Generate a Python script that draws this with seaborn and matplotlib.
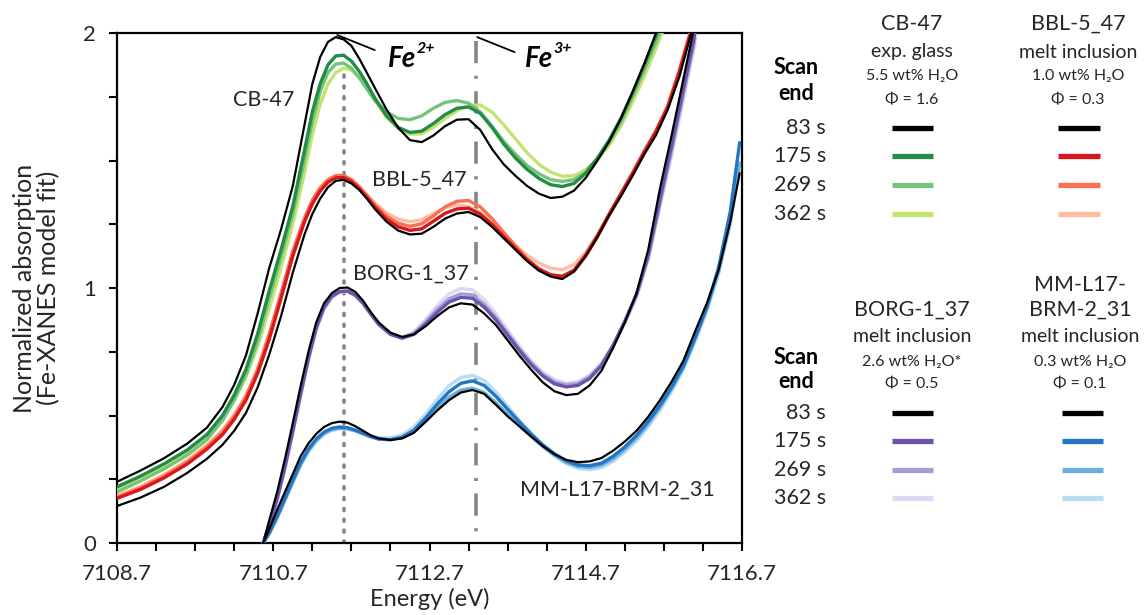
import matplotlib
matplotlib.use("Agg")
import matplotlib.pyplot as plt
import pandas as pd
import seaborn as sns

# ---------------------------------------------------------------- data
SCAN_END = ["83 s", "175 s", "269 s", "362 s"]

# CB-47 experimental glass
ENERGY_CB = [7108.7, 7109.0, 7109.3, 7109.6, 7109.85, 7110.05, 7110.2, 7110.35, 7110.5, 7110.65,
             7110.8, 7110.95, 7111.1, 7111.2, 7111.3, 7111.4, 7111.5, 7111.6, 7111.7, 7111.8,
             7111.9, 7112.0, 7112.15, 7112.3, 7112.45, 7112.6, 7112.75, 7112.9, 7113.05, 7113.2,
             7113.35, 7113.5, 7113.65, 7113.8, 7113.95, 7114.1, 7114.25, 7114.4, 7114.55, 7114.7,
             7114.85, 7115.0, 7115.15, 7115.3, 7115.45, 7115.6, 7115.75]
CB_083 = [0.240, 0.284, 0.332, 0.390, 0.452, 0.533, 0.620, 0.735, 0.900, 1.080,
          1.230, 1.400, 1.640, 1.800, 1.905, 1.965, 1.984, 1.975, 1.950, 1.900,
          1.843, 1.785, 1.700, 1.628, 1.580, 1.572, 1.598, 1.635, 1.660, 1.662,
          1.620, 1.545, 1.485, 1.440, 1.400, 1.370, 1.353, 1.358, 1.382, 1.432,
          1.500, 1.575, 1.665, 1.770, 1.880, 2.000, 2.120]
CB_175 = [0.220, 0.262, 0.310, 0.365, 0.425, 0.500, 0.580, 0.680, 0.820, 0.990,
          1.150, 1.320, 1.540, 1.690, 1.800, 1.875, 1.910, 1.913, 1.890, 1.850,
          1.800, 1.745, 1.675, 1.630, 1.610, 1.615, 1.645, 1.680, 1.705, 1.710,
          1.685, 1.630, 1.565, 1.510, 1.465, 1.430, 1.405, 1.398, 1.410, 1.450,
          1.510, 1.580, 1.665, 1.765, 1.875, 1.990, 2.110]
CB_269 = [0.200, 0.243, 0.290, 0.345, 0.405, 0.480, 0.560, 0.660, 0.790, 0.960,
          1.120, 1.290, 1.500, 1.650, 1.770, 1.845, 1.878, 1.882, 1.862, 1.825,
          1.780, 1.735, 1.690, 1.665, 1.660, 1.675, 1.705, 1.728, 1.735, 1.725,
          1.690, 1.635, 1.575, 1.525, 1.480, 1.448, 1.425, 1.418, 1.425, 1.455,
          1.505, 1.570, 1.650, 1.750, 1.855, 1.965, 2.080]
CB_362 = [0.210, 0.252, 0.300, 0.355, 0.415, 0.485, 0.560, 0.650, 0.770, 0.920,
          1.080, 1.250, 1.450, 1.600, 1.720, 1.800, 1.845, 1.862, 1.855, 1.825,
          1.785, 1.735, 1.670, 1.625, 1.603, 1.605, 1.630, 1.665, 1.695, 1.715,
          1.718, 1.690, 1.640, 1.585, 1.530, 1.485, 1.455, 1.438, 1.440, 1.465,
          1.505, 1.560, 1.635, 1.730, 1.830, 1.940, 2.060]

# BBL-5_47 melt inclusion
ENERGY_BBL = ENERGY_CB + [7115.9, 7116.05, 7116.2]
BBL_083 = [0.145, 0.178, 0.220, 0.275, 0.330, 0.385, 0.440, 0.510, 0.610, 0.740,
           0.890, 1.060, 1.210, 1.290, 1.350, 1.395, 1.420, 1.424, 1.410, 1.385,
           1.350, 1.310, 1.260, 1.225, 1.210, 1.213, 1.240, 1.272, 1.292, 1.298,
           1.278, 1.240, 1.195, 1.150, 1.105, 1.068, 1.045, 1.035, 1.065, 1.125,
           1.200, 1.285, 1.360, 1.440, 1.525, 1.600, 1.700, 1.830, 2.000, 2.150]
BBL_175 = [0.175, 0.210, 0.255, 0.310, 0.368, 0.425, 0.485, 0.560, 0.665, 0.800,
           0.960, 1.125, 1.260, 1.330, 1.380, 1.415, 1.432, 1.433, 1.418, 1.390,
           1.355, 1.318, 1.270, 1.240, 1.226, 1.232, 1.262, 1.293, 1.310, 1.313,
           1.290, 1.250, 1.202, 1.155, 1.110, 1.075, 1.052, 1.046, 1.070, 1.130,
           1.205, 1.290, 1.370, 1.450, 1.535, 1.615, 1.710, 1.850, 2.010, 2.160]
BBL_269 = [0.180, 0.216, 0.262, 0.318, 0.377, 0.435, 0.496, 0.573, 0.680, 0.820,
           0.980, 1.145, 1.275, 1.345, 1.393, 1.425, 1.441, 1.441, 1.425, 1.397,
           1.362, 1.326, 1.282, 1.254, 1.242, 1.252, 1.283, 1.318, 1.340, 1.343,
           1.318, 1.272, 1.218, 1.165, 1.115, 1.075, 1.050, 1.042, 1.065, 1.125,
           1.200, 1.285, 1.365, 1.445, 1.530, 1.610, 1.710, 1.850, 2.010, 2.160]
BBL_362 = [0.185, 0.222, 0.268, 0.325, 0.385, 0.443, 0.503, 0.580, 0.685, 0.820,
           0.975, 1.135, 1.265, 1.337, 1.387, 1.420, 1.437, 1.438, 1.424, 1.398,
           1.366, 1.334, 1.294, 1.270, 1.260, 1.268, 1.292, 1.315, 1.325, 1.320,
           1.296, 1.256, 1.210, 1.168, 1.128, 1.098, 1.078, 1.072, 1.092, 1.140,
           1.210, 1.290, 1.370, 1.455, 1.540, 1.620, 1.720, 1.860, 2.020, 2.170]

# BORG-1_37 melt inclusion
ENERGY_BORG = [7110.57, 7110.65, 7110.75, 7110.85, 7110.95, 7111.05, 7111.15, 7111.25, 7111.35, 7111.45,
               7111.55, 7111.65, 7111.75, 7111.85, 7111.95, 7112.05, 7112.2, 7112.35, 7112.5, 7112.65,
               7112.8, 7112.95, 7113.1, 7113.25, 7113.4, 7113.55, 7113.7, 7113.85, 7114.0, 7114.15,
               7114.3, 7114.45, 7114.6, 7114.75, 7114.9, 7115.05, 7115.2, 7115.35, 7115.5, 7115.65,
               7115.8, 7115.95, 7116.1]
BORG_083 = [0.000, 0.090, 0.200, 0.330, 0.470, 0.615, 0.750, 0.865, 0.940, 0.980,
            1.000, 1.002, 0.985, 0.950, 0.905, 0.865, 0.825, 0.808, 0.818, 0.850,
            0.890, 0.924, 0.940, 0.935, 0.900, 0.855, 0.795, 0.735, 0.680, 0.630,
            0.595, 0.580, 0.585, 0.618, 0.675, 0.765, 0.865, 0.980, 1.150, 1.390,
            1.600, 1.820, 2.040]
BORG_175 = [0.000, 0.070, 0.175, 0.300, 0.440, 0.585, 0.725, 0.845, 0.925, 0.968,
            0.986, 0.988, 0.972, 0.940, 0.897, 0.857, 0.818, 0.803, 0.818, 0.858,
            0.905, 0.945, 0.963, 0.960, 0.925, 0.875, 0.815, 0.755, 0.700, 0.655,
            0.624, 0.612, 0.618, 0.645, 0.695, 0.775, 0.870, 0.975, 1.130, 1.350,
            1.560, 1.780, 2.000]
BORG_269 = [0.000, 0.070, 0.170, 0.295, 0.435, 0.580, 0.720, 0.840, 0.920, 0.965,
            0.985, 0.988, 0.972, 0.940, 0.898, 0.858, 0.820, 0.805, 0.822, 0.866,
            0.917, 0.958, 0.977, 0.973, 0.937, 0.885, 0.823, 0.762, 0.707, 0.662,
            0.632, 0.620, 0.626, 0.652, 0.700, 0.775, 0.865, 0.970, 1.120, 1.330,
            1.540, 1.760, 1.980]
BORG_362 = [0.000, 0.065, 0.165, 0.290, 0.430, 0.575, 0.715, 0.835, 0.917, 0.962,
            0.983, 0.986, 0.970, 0.940, 0.900, 0.860, 0.823, 0.808, 0.828, 0.876,
            0.932, 0.977, 0.998, 0.993, 0.955, 0.900, 0.835, 0.772, 0.715, 0.670,
            0.640, 0.627, 0.633, 0.658, 0.705, 0.775, 0.862, 0.965, 1.110, 1.320,
            1.520, 1.740, 1.960]

# MM-L17-BRM-2_31 melt inclusion
ENERGY_MM = ENERGY_BORG + [7116.25, 7116.4, 7116.55, 7116.67]
MM_083 = [0.000, 0.055, 0.130, 0.200, 0.270, 0.340, 0.390, 0.428, 0.455, 0.470,
          0.476, 0.472, 0.458, 0.440, 0.422, 0.410, 0.404, 0.410, 0.432, 0.475,
          0.520, 0.560, 0.590, 0.600, 0.585, 0.542, 0.497, 0.458, 0.418, 0.380,
          0.348, 0.326, 0.317, 0.320, 0.333, 0.362, 0.398, 0.440, 0.495, 0.560,
          0.633, 0.715, 0.830, 0.940, 1.070, 1.260, 1.450]
MM_175 = [0.000, 0.040, 0.105, 0.175, 0.245, 0.315, 0.368, 0.408, 0.435, 0.450,
          0.455, 0.452, 0.443, 0.430, 0.417, 0.408, 0.405, 0.415, 0.442, 0.490,
          0.545, 0.593, 0.626, 0.636, 0.618, 0.575, 0.525, 0.475, 0.428, 0.385,
          0.350, 0.322, 0.306, 0.303, 0.313, 0.340, 0.377, 0.422, 0.477, 0.540,
          0.612, 0.695, 0.805, 0.925, 1.080, 1.300, 1.570]
MM_269 = [0.000, 0.040, 0.100, 0.170, 0.240, 0.308, 0.362, 0.402, 0.430, 0.445,
          0.450, 0.448, 0.440, 0.428, 0.416, 0.408, 0.405, 0.414, 0.440, 0.482,
          0.530, 0.572, 0.600, 0.607, 0.590, 0.550, 0.505, 0.460, 0.418, 0.378,
          0.343, 0.316, 0.300, 0.296, 0.305, 0.330, 0.367, 0.412, 0.468, 0.532,
          0.605, 0.690, 0.800, 0.920, 1.065, 1.260, 1.490]
MM_362 = [0.000, 0.035, 0.095, 0.165, 0.235, 0.302, 0.357, 0.398, 0.426, 0.442,
          0.448, 0.447, 0.440, 0.430, 0.420, 0.413, 0.412, 0.424, 0.455, 0.505,
          0.565, 0.617, 0.649, 0.658, 0.638, 0.592, 0.537, 0.482, 0.430, 0.383,
          0.343, 0.312, 0.293, 0.287, 0.295, 0.320, 0.356, 0.400, 0.455, 0.520,
          0.595, 0.680, 0.790, 0.910, 1.055, 1.250, 1.470]

SAMPLES = ["CB-47", "BBL-5_47", "BORG-1_37", "MM-L17-BRM-2_31"]
SAMPLE_ENERGY = {"CB-47": ENERGY_CB, "BBL-5_47": ENERGY_BBL,
                 "BORG-1_37": ENERGY_BORG, "MM-L17-BRM-2_31": ENERGY_MM}
SAMPLE_SCANS = {"CB-47": [CB_083, CB_175, CB_269, CB_362],
                "BBL-5_47": [BBL_083, BBL_175, BBL_269, BBL_362],
                "BORG-1_37": [BORG_083, BORG_175, BORG_269, BORG_362],
                "MM-L17-BRM-2_31": [MM_083, MM_175, MM_269, MM_362]}
SAMPLE_COLORS = {"CB-47": ["#000000", "#248c47", "#76c47a", "#c4e470"],
                 "BBL-5_47": ["#000000", "#d7191c", "#fc7050", "#fdbda2"],
                 "BORG-1_37": ["#000000", "#6c52a8", "#a59ed6", "#dcd9f1"],
                 "MM-L17-BRM-2_31": ["#000000", "#2475c4", "#6cb1de", "#b9dcf3"]}

# legend header text per sample
SAMPLE_HEADER = {"CB-47": ["CB-47", "exp. glass", "5.5 wt% H\u2082O", "\u03a6 = 1.6"],
                 "BBL-5_47": ["BBL-5_47", "melt inclusion", "1.0 wt% H\u2082O", "\u03a6 = 0.3"],
                 "BORG-1_37": ["BORG-1_37", "melt inclusion", "2.6 wt% H\u2082O*", "\u03a6 = 0.5"],
                 "MM-L17-BRM-2_31": ["MM-L17-\nBRM-2_31", "melt inclusion", "0.3 wt% H\u2082O", "\u03a6 = 0.1"]}

FE2_ENERGY = 7111.6
FE3_ENERGY = 7113.3

# long-form table of all spectra
rows = []
for s in SAMPLES:
    for scan, vals in zip(SCAN_END, SAMPLE_SCANS[s]):
        for e, v in zip(SAMPLE_ENERGY[s], vals):
            rows.append({"sample": s, "scan": scan, "energy": e, "absorption": v})
spectra = pd.DataFrame(rows)

# ---------------------------------------------------------------- style
sns.set_style("ticks")
plt.rcParams["font.family"] = ["Lato", "DejaVu Sans"]
plt.rcParams["lines.scale_dashes"] = False
TXT = "#262626"

fig = plt.figure(figsize=(11.48, 6.15), dpi=100)
ax = fig.add_axes([117 / 1148, 1 - 543 / 615, 625 / 1148, 510 / 615])

# later scans first, the 83 s scan on top
draw_order = [3, 2, 1, 0]
for s in SAMPLES:
    for i in draw_order:
        sub = spectra[(spectra["sample"] == s) & (spectra["scan"] == SCAN_END[i])]
        sns.lineplot(data=sub, x="energy", y="absorption", sort=False, estimator=None,
                     color=SAMPLE_COLORS[s][i], lw=1.6 if i == 0 else 2.4,
                     solid_joinstyle="round", solid_capstyle="round",
                     ax=ax, legend=False, zorder=3)

# edge-position guides
ax.plot([FE2_ENERGY, FE2_ENERGY], [0, 1.84], color="#858585", lw=2.6,
        ls=(0, (1.5, 6.3)), dash_capstyle="round", zorder=2)
ax.plot([FE3_ENERGY, FE3_ENERGY], [1.97, 0], color="#858585", lw=2.6,
        ls=(0, (16, 9, 2.2, 9)), zorder=2)

ax.set_xlim(7108.7, 7116.7)
ax.set_ylim(0, 2)
ax.set_xticks([7108.7, 7110.7, 7112.7, 7114.7, 7116.7])
ax.set_xticklabels(["7108.7", "7110.7", "7112.7", "7114.7", "7116.7"])
ax.set_xticks([7108.7 + 0.5 * k for k in range(17)], minor=True)
ax.set_yticks([0, 1, 2])
ax.set_yticklabels(["0", "1", "2"])
ax.set_yticks([0.25 * k for k in range(9)], minor=True)
ax.tick_params(which="both", direction="out", length=6, width=1.5, color="black",
               labelsize=16, labelcolor=TXT)
ax.tick_params(axis="x", which="major", pad=9)
ax.tick_params(axis="y", which="major", pad=9)
for sp in ax.spines.values():
    sp.set_linewidth(1.6)
    sp.set_color("black")

ax.set_xlabel("Energy (eV)", fontsize=17, color=TXT)
ax.xaxis.set_label_coords(0.5, -0.088)
ax.set_ylabel("Normalized absorption\n(Fe-XANES model fit)", fontsize=18, color=TXT,
              linespacing=1.1)
ax.yaxis.set_label_coords(-0.09, 0.5)

# sample names beside the curves
ax.text(7110.97, 1.737, "CB-47", fontsize=15.5, color=TXT, ha="right", va="center")
ax.text(7111.96, 1.424, "BBL-5_47", fontsize=15.5, color=TXT, ha="left", va="center")
ax.text(7111.72, 1.055, "BORG-1_37", fontsize=15.5, color=TXT, ha="left", va="center")
ax.text(7113.86, 0.208, "MM-L17-BRM-2_31", fontsize=15.5, color=TXT, ha="left", va="center")

# Fe2+ / Fe3+ pointers
ax.plot([7111.52, 7112.0], [1.992, 1.933], color="black", lw=1.3, zorder=4)
ax.plot([7113.31, 7113.79], [1.984, 1.925], color="black", lw=1.3, zorder=4)
for e, charge in [(7112.17, "2+"), (7113.92, "3+")]:
    t = ax.text(e, 1.867, "Fe", fontsize=20, fontweight="bold", fontstyle="italic",
                color="black", ha="left", va="baseline")
    ax.annotate(charge, xy=(1, 0.62), xycoords=t, xytext=(0.5, 0), textcoords="offset points",
                fontsize=11.5, fontweight="bold", fontstyle="italic", color="black",
                ha="left", va="bottom")

# ---------------------------------------------------------------- legend panel
lg = fig.add_axes([0, 0, 1, 1], facecolor="none")
lg.set_xlim(0, 1148)
lg.set_ylim(615, 0)
lg.axis("off")

blocks = [
    (["CB-47", "BBL-5_47"], [912, 1078], [24, 52, 76, 100], 68, 93, [128, 156, 185, 214], [(892, 933), (1058, 1100)]),
    (["BORG-1_37", "MM-L17-BRM-2_31"], [912, 1080], [310, 337, 362, 384], 357, 382, [413, 441, 470, 498], [(892, 933), (1062, 1103)]),
]
for names, centers, hy, scan_y, end_y, row_y, spans in blocks:
    lg.text(796, scan_y, "Scan", fontsize=15.5, fontweight="bold", color="black", ha="center", va="center")
    lg.text(796, end_y, "end", fontsize=15.5, fontweight="bold", color="black", ha="center", va="center")
    for y, lab in zip(row_y, SCAN_END):
        lg.text(826, y, lab, fontsize=15.5, color=TXT, ha="right", va="center")
    for s, cx, (x0, x1) in zip(names, centers, spans):
        head = SAMPLE_HEADER[s]
        if "\n" in head[0]:
            top, bottom = head[0].split("\n")
            lg.text(cx, hy[0] - 25, top, fontsize=15.5, color=TXT, ha="center", va="center")
            lg.text(cx, hy[0], bottom, fontsize=15.5, color=TXT, ha="center", va="center")
        else:
            lg.text(cx, hy[0], head[0], fontsize=15.5, color=TXT, ha="center", va="center")
        lg.text(cx, hy[1], head[1], fontsize=14, color=TXT, ha="center", va="center")
        lg.text(cx, hy[2], head[2], fontsize=11.5, color=TXT, ha="center", va="center")
        lg.text(cx, hy[3], head[3], fontsize=11.5, color=TXT, ha="center", va="center")
        for y, c in zip(row_y, SAMPLE_COLORS[s]):
            lg.plot([x0, x1], [y, y], color=c, lw=3.8, solid_capstyle="butt")

fig.savefig("out.png", dpi=100)
